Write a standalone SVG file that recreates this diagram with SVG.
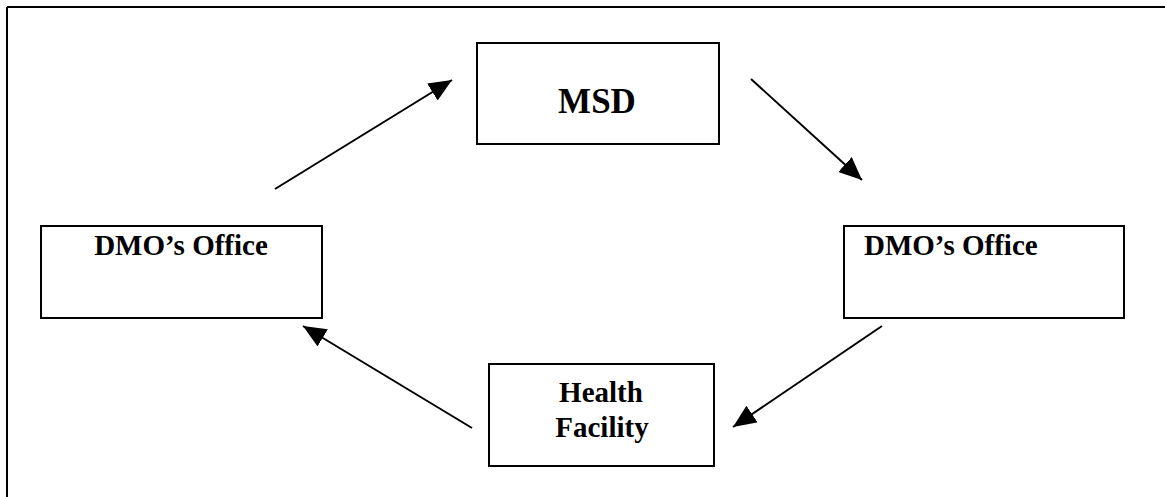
<svg xmlns="http://www.w3.org/2000/svg" width="1165" height="497" viewBox="0 0 1165 497">
<style>
.box{fill:#fff;stroke:#000;stroke-width:2}
.lbl{font-family:"Liberation Serif","Times New Roman",serif;font-weight:bold;fill:#000}
.conn{stroke:#000;stroke-width:2;fill:none;marker-end:url(#ah)}
</style>
<defs>
<marker id="ah" markerUnits="userSpaceOnUse" markerWidth="26" markerHeight="22" refX="23" refY="10" orient="auto">
<path d="M0,0 L23,10 L0,20 Z" fill="#000"/>
</marker>
</defs>
<rect width="1165" height="497" fill="#fff"/>
<g id="frame">
<path d="M7,7 H1165 M7,7 V497" stroke="#000" stroke-width="2" fill="none"/>
</g>
<g id="msd">
<rect class="box" x="477" y="43" width="242" height="101"/>
<text class="lbl" x="597" y="113" font-size="35" text-anchor="middle">MSD</text>
</g>
<g id="dmo-left">
<rect class="box" x="41" y="226" width="281" height="92"/>
<text class="lbl" x="181" y="255" font-size="29" text-anchor="middle">DMO’s Office</text>
</g>
<g id="dmo-right">
<rect class="box" x="844" y="226" width="280" height="92"/>
<text class="lbl" x="864" y="255" font-size="29">DMO’s Office</text>
</g>
<g id="health-facility">
<rect class="box" x="489" y="364" width="225" height="102"/>
<text class="lbl" x="601" y="402" font-size="29" text-anchor="middle">Health</text>
<text class="lbl" x="602" y="437" font-size="29" text-anchor="middle">Facility</text>
</g>
<g id="connectors">
<line class="conn" x1="275" y1="189" x2="452" y2="80"/>
<line class="conn" x1="751" y1="79" x2="862" y2="180"/>
<line class="conn" x1="882" y1="326" x2="733" y2="427"/>
<line class="conn" x1="472" y1="428" x2="303" y2="326"/>
</g>
</svg>
